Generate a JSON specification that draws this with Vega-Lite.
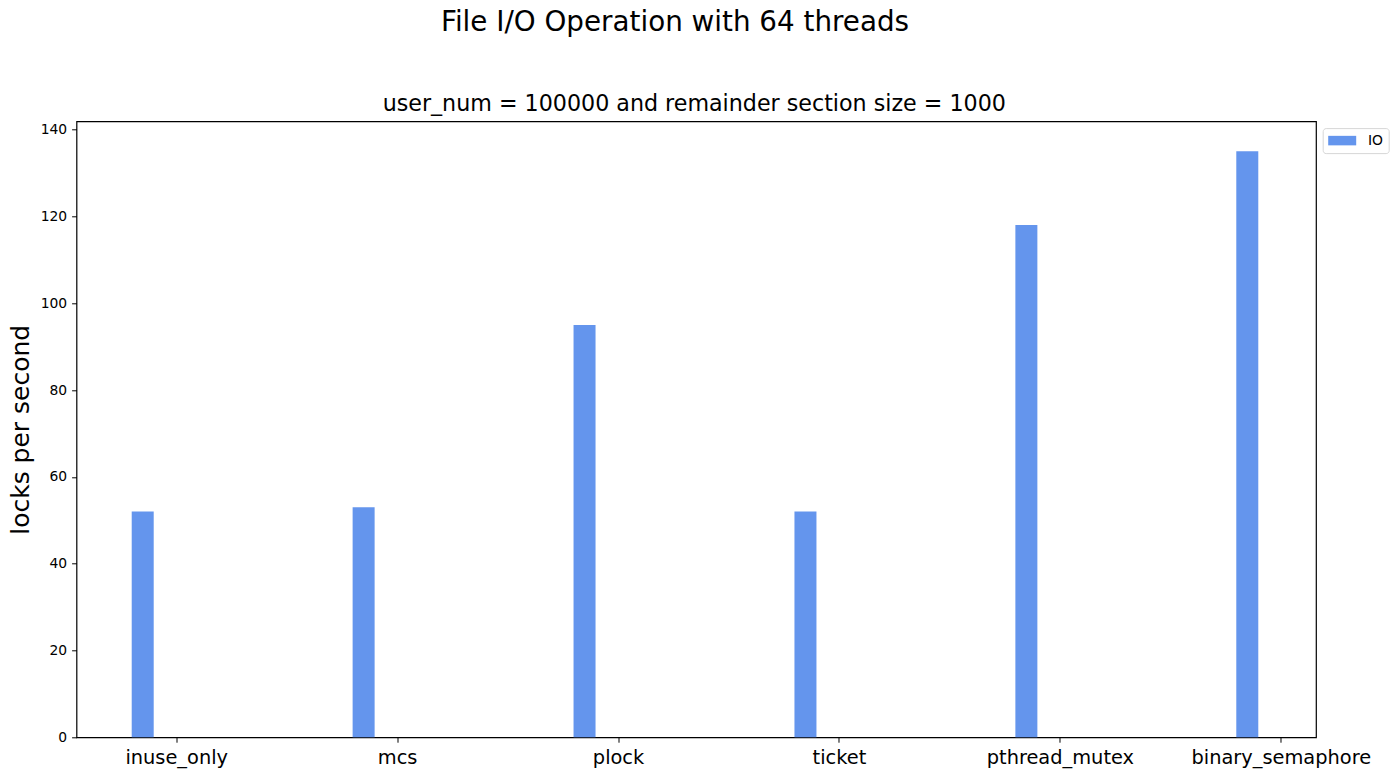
{
  "$schema": "https://vega.github.io/schema/vega-lite/v6.json",
  "background": "white",
  "padding": {"left": 6.5, "top": 9.3, "right": 5, "bottom": 5},
  "title": {
    "text": "File I/O Operation with 64 threads",
    "font": "DejaVu Sans",
    "fontSize": 27.8,
    "fontWeight": "normal",
    "color": "black",
    "anchor": "middle",
    "dx": -30,
    "offset": 55.2
  },
  "config": {
    "font": "DejaVu Sans",
    "view": {"stroke": "black", "strokeWidth": 1.2},
    "axis": {"grid": false, "domain": false, "tickColor": "black", "labelColor": "black", "titleColor": "black", "labelFont": "DejaVu Sans", "titleFont": "DejaVu Sans", "titleFontWeight": "normal", "tickWidth": 1}
  },
  "vconcat": [
    {
      "title": {
        "text": "user_num = 100000 and remainder section size = 1000",
        "font": "DejaVu Sans",
        "fontSize": 22.2,
        "fontWeight": "normal",
        "color": "black",
        "anchor": "middle",
        "dx": -2,
        "offset": 6
      },
      "width": 1239.5,
      "height": 616,
      "data": {
        "values": [
          {"lock": "inuse_only", "series": "IO", "value": 52},
          {"lock": "mcs", "series": "IO", "value": 53},
          {"lock": "plock", "series": "IO", "value": 95},
          {"lock": "ticket", "series": "IO", "value": 52},
          {"lock": "pthread_mutex", "series": "IO", "value": 118},
          {"lock": "binary_semaphore", "series": "IO", "value": 135}
        ]
      },
      "mark": {"type": "bar", "width": 22, "xOffset": -34},
      "encoding": {
        "x": {
          "field": "lock",
          "type": "nominal",
          "sort": null,
          "scale": {"range": [-10.25, 1315.25], "paddingInner": 0, "paddingOuter": 0},
          "axis": {"title": null, "labelAngle": 0, "labelFontSize": 19.4, "tickSize": 4.9, "labelPadding": 6}
        },
        "y": {
          "field": "value",
          "type": "quantitative",
          "scale": {"domain": [0, 141.9], "nice": false},
          "axis": {"title": "locks per second", "titleFontSize": 25, "values": [0, 20, 40, 60, 80, 100, 120, 140], "labelFontSize": 13.9, "tickSize": 4.9, "labelPadding": 4.9, "titleX": -48.5, "titleBaseline": "alphabetic"}
        },
        "color": {
          "field": "series",
          "type": "nominal",
          "scale": {"range": ["#6495ED"]},
          "legend": {
            "title": null,
            "orient": "none",
            "legendX": 1246.2,
            "legendY": 6.8,
            "symbolType": "M-1,-0.68H3V0.68H-1Z",
            "symbolSize": 196,
            "symbolStrokeWidth": 0,
            "labelFontSize": 13.9,
            "labelFont": "DejaVu Sans",
            "labelColor": "black",
            "labelOffset": 25.7,
            "padding": 5.5,
            "strokeColor": "#d6d6d6",
            "fillColor": "white",
            "cornerRadius": 3
          }
        }
      }
    }
  ]
}
